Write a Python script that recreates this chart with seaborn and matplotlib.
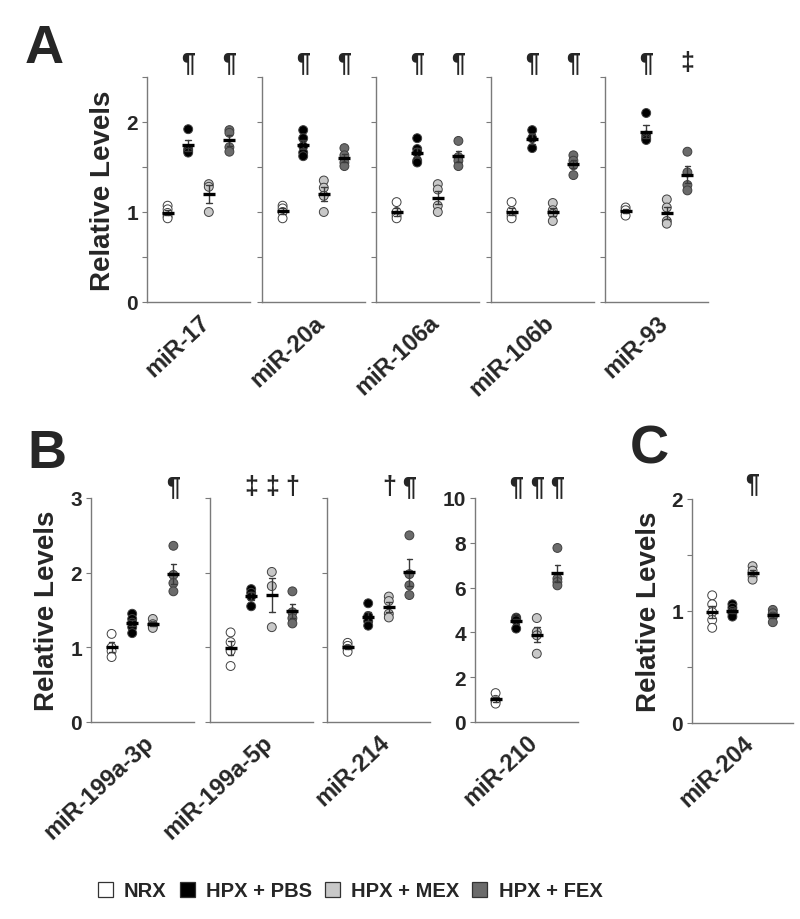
import numpy as np
import pandas as pd
import matplotlib
matplotlib.use("Agg")
import matplotlib.pyplot as plt
import seaborn as sns
from matplotlib.patches import Patch
from matplotlib.ticker import FixedLocator, NullFormatter
from matplotlib.transforms import ScaledTranslation, blended_transform_factory

# ---------------- data ----------------
groups = ["NRX", "HPX + PBS", "HPX + MEX", "HPX + FEX"]
palette = ["#ffffff", "#000000", "#c8c8c8", "#6b6b6b"]

# Panel A  (order: NRX, HPX+PBS, HPX+MEX, HPX+FEX)
mir_17 = [[1.07, 1.03, 0.99, 0.95, 0.93], [1.92, 1.70, 1.68, 1.66],
          [1.31, 1.28, 1.00], [1.91, 1.88, 1.72, 1.67]]
mir_20a = [[1.07, 1.04, 1.00, 0.93], [1.91, 1.82, 1.73, 1.66, 1.62],
           [1.35, 1.27, 1.18, 1.00], [1.71, 1.63, 1.55, 1.51]]
mir_106a = [[1.11, 1.00, 0.96, 0.93], [1.82, 1.70, 1.66, 1.57, 1.55],
            [1.31, 1.25, 1.07, 1.00], [1.79, 1.61, 1.57, 1.51]]
mir_106b = [[1.11, 1.01, 0.96, 0.93], [1.91, 1.82, 1.71],
            [1.10, 1.02, 0.98, 0.90], [1.63, 1.57, 1.52, 1.41]]
mir_93 = [[1.05, 1.02, 0.96], [2.10, 1.85, 1.82, 1.80],
          [1.14, 1.05, 0.90, 0.87], [1.67, 1.44, 1.30, 1.24]]

# Panel B
mir_199a_3p = [[1.18, 1.00, 0.95, 0.87], [1.45, 1.38, 1.33, 1.27, 1.19],
               [1.38, 1.31, 1.29, 1.26], [2.36, 1.97, 1.86, 1.75]]
mir_199a_5p = [[1.20, 1.07, 0.95, 0.75], [1.78, 1.73, 1.68, 1.55],
               [2.01, 1.82, 1.27], [1.75, 1.47, 1.39, 1.32]]
mir_214 = [[1.06, 1.02, 0.98, 0.94], [1.59, 1.42, 1.35, 1.29],
           [1.68, 1.62, 1.45, 1.40], [2.50, 1.98, 1.83, 1.70]]
mir_210 = [[1.29, 0.99, 0.92, 0.82], [4.66, 4.60, 4.54, 4.17],
           [4.64, 4.02, 3.87, 3.05], [7.77, 6.40, 6.25, 6.10]]

# Panel C
mir_204 = [[1.14, 1.06, 0.99, 0.92, 0.85], [1.06, 1.03, 1.00, 0.98, 0.95],
           [1.40, 1.36, 1.31, 1.28], [1.01, 0.98, 0.95, 0.90]]

# significance symbols above each group
sig_mir_17 = ["", "¶", "", "¶"]
sig_mir_20a = ["", "¶", "", "¶"]
sig_mir_106a = ["", "¶", "", "¶"]
sig_mir_106b = ["", "¶", "", "¶"]
sig_mir_93 = ["", "¶", "", "‡"]
sig_mir_199a_3p = ["", "", "", "¶"]
sig_mir_199a_5p = ["", "‡", "‡", "†"]
sig_mir_214 = ["", "", "†", "¶"]
sig_mir_210 = ["", "¶", "¶", "¶"]
sig_mir_204 = ["", "", "¶", ""]

# ---------------- style ----------------
sns.set_theme(style="ticks")
plt.rcParams["font.family"] = ["Liberation Sans", "DejaVu Sans"]
plt.rcParams["font.weight"] = "bold"

W, H = 800, 920
fig = plt.figure(figsize=(W / 100, H / 100), dpi=100)
SPINE = "#7a7a7a"


def make_ax(left_px, top_px, width_px, height_px):
    return fig.add_axes([left_px / W, 1 - (top_px + height_px) / H,
                         width_px / W, height_px / H])


def draw(ax, values, name, sig, ylim, major, minor, show_ticklabels,
         ylabel=False, sig_y=1.065):
    df = pd.DataFrame({
        "group": [g for g, v in zip(groups, values) for _ in v],
        "value": [x for v in values for x in v],
    })
    sns.stripplot(data=df, x="group", y="value", hue="group", order=groups,
                  hue_order=groups, palette=palette, jitter=False, size=6.4,
                  edgecolor="#404040", linewidth=0.7, legend=False, ax=ax,
                  zorder=2)
    sns.pointplot(data=df, x="group", y="value", order=groups, errorbar="se",
                  capsize=0.28, linestyle="none", marker="none",
                  color="#3a3a3a", err_kws={"linewidth": 1.0, "zorder": 4},
                  ax=ax, zorder=4)
    sns.pointplot(data=df, x="group", y="value", order=groups, errorbar=None,
                  linestyle="none", marker="_", markersize=8.5,
                  markeredgewidth=2.4, color="black", ax=ax, zorder=5)
    ax.set_xlim(-1, 4)
    ax.set_ylim(*ylim)
    ax.yaxis.set_major_locator(FixedLocator(major))
    ax.yaxis.set_minor_locator(FixedLocator(minor))
    ax.tick_params(axis="y", which="both", direction="out", length=3.5,
                   width=0.8, color=SPINE, labelsize=15, pad=3)
    if not show_ticklabels:
        ax.yaxis.set_major_formatter(NullFormatter())
    for lab in ax.get_yticklabels():
        lab.set_fontweight("bold")
    ax.set_xticks([1.5])
    ax.set_xticklabels([name], rotation=43, ha="right", va="center",
                       rotation_mode="anchor", fontsize=17, fontweight="bold")
    ax.tick_params(axis="x", length=0, pad=0)
    off = ScaledTranslation(8 / 100, -17 / 100, fig.dpi_scale_trans)
    for lab in ax.get_xticklabels():
        lab.set_transform(lab.get_transform() + off)
    ax.set_xlabel("")
    if ylabel:
        ax.set_ylabel("Relative Levels", fontsize=20, fontweight="bold")
        ax.yaxis.set_label_coords(-0.30, 0.5)
    else:
        ax.set_ylabel("")
    for s in ["top", "right"]:
        ax.spines[s].set_visible(False)
    for s in ["left", "bottom"]:
        ax.spines[s].set_color(SPINE)
        ax.spines[s].set_linewidth(1.0)
    tr = blended_transform_factory(ax.transData, ax.transAxes)
    for i, s in enumerate(sig):
        if s:
            ax.text(i, sig_y, s, transform=tr, ha="center", va="center",
                    fontsize=18, fontweight="bold", clip_on=False)


# Panel A
a_data = [mir_17, mir_20a, mir_106a, mir_106b, mir_93]
a_names = ["miR-17", "miR-20a", "miR-106a", "miR-106b", "miR-93"]
a_sigs = [sig_mir_17, sig_mir_20a, sig_mir_106a, sig_mir_106b, sig_mir_93]
a_left = [147, 262, 376, 491, 605]
for k in range(5):
    ax = make_ax(a_left[k], 78, 103, 225)
    draw(ax, a_data[k], a_names[k], a_sigs[k], (0, 2.5), [0, 1, 2],
         [0.5, 1.5, 2.5], show_ticklabels=(k == 0), ylabel=(k == 0),
         sig_y=1.067)

# Panel B
b_data = [mir_199a_3p, mir_199a_5p, mir_214, mir_210]
b_names = ["miR-199a-3p", "miR-199a-5p", "miR-214", "miR-210"]
b_sigs = [sig_mir_199a_3p, sig_mir_199a_5p, sig_mir_214, sig_mir_210]
b_left = [91, 210, 327, 475]
for k in range(4):
    ax = make_ax(b_left[k], 499, 103, 224)
    if k < 3:
        draw(ax, b_data[k], b_names[k], b_sigs[k], (0, 3), [0, 1, 2, 3], [],
             show_ticklabels=(k == 0), ylabel=(k == 0), sig_y=1.055)
    else:
        draw(ax, b_data[k], b_names[k], b_sigs[k], (0, 10),
             [0, 2, 4, 6, 8, 10], [], show_ticklabels=True, sig_y=1.055)

# Panel C
ax = make_ax(692, 500, 101, 224)
draw(ax, mir_204, "miR-204", sig_mir_204, (0, 2), [0, 1, 2], [0.5, 1.5],
     show_ticklabels=True, ylabel=True, sig_y=1.07)

# Panel letters
for letter, x, y in [("A", 25, 63), ("B", 27, 468), ("C", 630, 464)]:
    fig.text(x / W, 1 - y / H, letter, ha="left", va="baseline",
             fontsize=39, fontweight="bold")

# Legend
handles = [Patch(facecolor=c, edgecolor="#333333", linewidth=0.9)
           for c in palette]
fig.legend(handles, groups, loc="center", bbox_to_anchor=(350 / W, 1 - 892 / H),
           ncol=4, frameon=False, handlelength=0.75, handleheight=0.75,
           handletextpad=0.55, columnspacing=0.65,
           prop={"family": ["Liberation Sans"], "weight": "bold", "size": 14.5})

fig.savefig("out.png", dpi=100)
